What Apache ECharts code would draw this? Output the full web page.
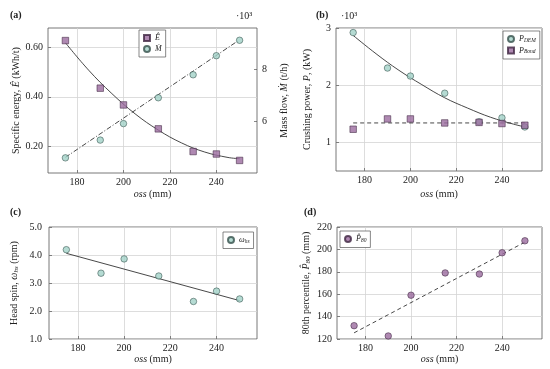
<!DOCTYPE html>
<html><head><meta charset="utf-8">
<script src="https://cdn.jsdelivr.net/npm/echarts@6/dist/echarts.min.js"></script>
<style>html,body{margin:0;padding:0;background:#fff}#c{width:550px;height:369px}</style>
</head><body><div id="c"></div>
<script>
const oss = [175, 190, 200, 215, 230, 240, 250];
const energy = [0.628, 0.435, 0.367, 0.270, 0.178, 0.168, 0.142];
const massFlow = [4600, 5280, 5910, 6900, 7780, 8510, 9100];
const energyFitX = [175, 185, 195, 205, 215, 225, 235, 245, 250];
const energyFit = [0.619, 0.508, 0.413, 0.331, 0.265, 0.213, 0.176, 0.154, 0.149];
const massFitX = [175, 250];
const massFit = [4620, 9120];
const pDEM = [2920, 2300, 2160, 1860, 1360, 1430, 1270];
const pBond = [1230, 1410, 1410, 1340, 1350, 1330, 1300];
const pFitX = [175, 185, 195, 205, 215, 225, 235, 245, 250];
const pFit = [2870, 2550, 2260, 2010, 1780, 1600, 1440, 1320, 1270];
const bondFitX = [175, 250];
const bondFit = [1340, 1340];
const headSpin = [4.19, 3.35, 3.86, 3.25, 2.34, 2.71, 2.43];
const spinFitX = [175, 250];
const spinFit = [4.06, 2.37];
const p80 = [131.9, 122.7, 159.1, 179, 178, 197, 207.7];
const p80FitX = [175, 250];
const p80Fit = [125.5, 206.5];
const xTicks = [180, 200, 220, 240];
const energyTicks = [0.2, 0.4, 0.6];
const massTicks = [6000, 8000];
const powerTicks = [1000, 2000, 3000];

const FONT = 'Liberation Serif';
const TXT = '#222';
const TEAL = '#a3d2c8', TEAL_B = '#34504b';
const PURP = '#9b6b9f', PURP_B = '#3e2541';
const zip = (xs, ys) => xs.map((x, i) => [x, ys[i]]);
const rich = {
  i: {fontStyle: 'italic', fontFamily: FONT, fontSize: 10, color: TXT},
  sub: {fontStyle: 'italic', fontFamily: FONT, fontSize: 7, color: TXT, verticalAlign: 'bottom', padding: [4, 0, 0, 0]},
  n: {fontFamily: FONT, fontSize: 10, color: TXT}
};
const legRich = {
  i: {fontStyle: 'italic', fontFamily: FONT, fontSize: 8, color: TXT},
  sub: {fontStyle: 'italic', fontFamily: FONT, fontSize: 5.5, color: TXT, padding: [3, 0, 0, 0]}
};

function xAx(gi, gap) {
  return {
    type: 'value', gridIndex: gi, min: 167.5, max: 257.5,
    name: '{i|oss} (mm)', nameLocation: 'middle', nameGap: gap,
    nameTextStyle: {fontFamily: FONT, fontSize: 10, color: TXT, rich},
    axisLine: {show: false},
    axisTick: {show: true, inside: true, length: 3, customValues: xTicks, lineStyle: {color: '#555', width: 0.7}},
    axisLabel: {customValues: xTicks, fontFamily: FONT, fontSize: 10, color: TXT, margin: 4},
    splitLine: {show: true, lineStyle: {color: '#d4d4d4', width: 0.8}}
  };
}
function yAx(gi, o) {
  return Object.assign({
    type: 'value', gridIndex: gi,
    nameLocation: 'middle', nameRotate: 90,
    nameTextStyle: {fontFamily: FONT, fontSize: 10, color: TXT, rich},
    axisLine: {show: false},
    axisTick: {show: true, inside: true, length: 3, lineStyle: {color: '#555', width: 0.7}},
    axisLabel: {fontFamily: FONT, fontSize: 10, color: TXT, margin: 5},
    splitLine: {show: true, lineStyle: {color: '#d4d4d4', width: 0.8}}
  }, o);
}
const gridStyle = {show: true, borderColor: '#555', borderWidth: 0.8, backgroundColor: 'transparent'};
const sq = {symbol: 'rect', symbolSize: 6.5, itemStyle: {color: PURP, borderColor: PURP_B, borderWidth: 0.7}};
const ci = {symbol: 'circle', symbolSize: 6.5, itemStyle: {color: TEAL, borderColor: TEAL_B, borderWidth: 0.7}};
const fitLine = (xi, yi, data, type, smooth) => ({
  type: 'line', xAxisIndex: xi, yAxisIndex: yi, data, showSymbol: false, symbol: 'none',
  smooth: smooth ? 0.4 : false, silent: true, z: 1,
  lineStyle: {color: '#333', width: 0.9, type}
});
const legBase = {
  orient: 'vertical', itemWidth: 6, itemHeight: 6, itemGap: 3, padding: [4, 4, 4, 4],
  borderColor: '#555', borderWidth: 0.7, backgroundColor: '#fff', selectedMode: false,
  textStyle: {fontFamily: FONT, fontSize: 8, color: TXT, rich: legRich}
};
const legNames = {
  E: '{i|Ê}', M: '{i|Ṁ}', PDEM: '{i|P}{sub|DEM}', PBond: '{i|P}{sub|Bond}', W: '{i|ω}{sub|hs}', P80: '{i|P̂}{sub|80}'
};

const option = {
  animation: false,
  backgroundColor: '#fff',
  title: [
    {text: '(a)', left: 5, top: 5},
    {text: '(b)', left: 311, top: 5},
    {text: '(c)', left: 5, top: 202},
    {text: '(d)', left: 299, top: 202}
  ].map(t => Object.assign(t, {textStyle: {fontFamily: FONT, fontSize: 10, fontWeight: 'bold', color: TXT}})),
  graphic: [
    {type: 'text', left: 236, top: 11, style: {text: '·10³', font: '10px "Liberation Serif"', fill: TXT}},
    {type: 'text', left: 341, top: 11, style: {text: '·10³', font: '10px "Liberation Serif"', fill: TXT}}
  ],
  grid: [
    Object.assign({left: 48, top: 28, width: 209, height: 145}, gridStyle),
    Object.assign({left: 336, top: 28, width: 206, height: 143}, gridStyle),
    Object.assign({left: 49, top: 227, width: 208, height: 112}, gridStyle),
    Object.assign({left: 337, top: 227, width: 205, height: 112}, gridStyle)
  ],
  xAxis: [xAx(0, 16), xAx(1, 18), xAx(2, 15), xAx(3, 15)],
  yAxis: [
    yAx(0, {min: 0.091, max: 0.679, name: 'Specific energy, {i|Ê} (kWh/t)', nameGap: 27,
      axisTick: {show: true, inside: true, length: 3, customValues: energyTicks, lineStyle: {color: '#555', width: 0.7}},
      axisLabel: {customValues: energyTicks, fontFamily: FONT, fontSize: 10, color: TXT, margin: 5, formatter: v => v.toFixed(2)}}),
    yAx(0, {position: 'right', min: 4020, max: 9570, name: 'Mass flow, {i|Ṁ} (t/h)', nameGap: 22, nameRotate: 90,
      splitLine: {show: false},
      axisTick: {show: true, inside: true, length: 3, customValues: massTicks, lineStyle: {color: '#555', width: 0.7}},
      axisLabel: {customValues: massTicks, fontFamily: FONT, fontSize: 10, color: TXT, margin: 5, formatter: v => String(v / 1000)}}),
    yAx(1, {min: 500, max: 3000, name: 'Crushing power, {i|P}, (kW)', nameGap: 24,
      axisTick: {show: true, inside: true, length: 3, customValues: powerTicks, lineStyle: {color: '#555', width: 0.7}},
      axisLabel: {customValues: powerTicks, fontFamily: FONT, fontSize: 10, color: TXT, margin: 5, formatter: v => String(v / 1000)}}),
    yAx(2, {min: 1, max: 5, interval: 1, name: 'Head spin, {i|ω}{sub|hs} (rpm)', nameGap: 29,
      axisLabel: {fontFamily: FONT, fontSize: 10, color: TXT, margin: 7, formatter: v => v.toFixed(1)}}),
    yAx(3, {min: 120, max: 220, interval: 20, name: '80th percentile, {i|P̂}{sub|80} (mm)', nameGap: 25})
  ],
  legend: [
    Object.assign({}, legBase, {left: 139, top: 30, data: [{name: 'E', icon: 'rect'}, {name: 'M', icon: 'circle'}], formatter: n => legNames[n]}),
    Object.assign({}, legBase, {left: 503, top: 31, data: [{name: 'PDEM', icon: 'circle'}, {name: 'PBond', icon: 'rect'}], formatter: n => legNames[n]}),
    Object.assign({}, legBase, {left: 223, top: 232, data: [{name: 'W', icon: 'circle'}], formatter: n => legNames[n]}),
    Object.assign({}, legBase, {left: 340, top: 231, data: [{name: 'P80', icon: 'circle'}], formatter: n => legNames[n]})
  ],
  series: [
    fitLine(0, 0, zip(energyFitX, energyFit), 'solid', true),
    fitLine(0, 1, zip(massFitX, massFit), [5, 2, 1, 2], false),
    Object.assign({type: 'scatter', name: 'E', xAxisIndex: 0, yAxisIndex: 0, data: zip(oss, energy), z: 3}, sq),
    Object.assign({type: 'scatter', name: 'M', xAxisIndex: 0, yAxisIndex: 1, data: zip(oss, massFlow), z: 3}, ci),
    fitLine(1, 2, zip(pFitX, pFit), 'solid', true),
    fitLine(1, 2, zip(bondFitX, bondFit), [4, 3], false),
    Object.assign({type: 'scatter', name: 'PDEM', xAxisIndex: 1, yAxisIndex: 2, data: zip(oss, pDEM), z: 3}, ci),
    Object.assign({type: 'scatter', name: 'PBond', xAxisIndex: 1, yAxisIndex: 2, data: zip(oss, pBond), z: 4}, sq),
    fitLine(2, 3, zip(spinFitX, spinFit), 'solid', false),
    Object.assign({type: 'scatter', name: 'W', xAxisIndex: 2, yAxisIndex: 3, data: zip(oss, headSpin), z: 3}, ci),
    fitLine(3, 4, zip(p80FitX, p80Fit), [4, 3], false),
    Object.assign({type: 'scatter', name: 'P80', xAxisIndex: 3, yAxisIndex: 4, data: zip(oss, p80), z: 3},
      {symbol: 'circle', symbolSize: 6.5, itemStyle: {color: PURP, borderColor: PURP_B, borderWidth: 0.7}})
  ]
};
const chart = echarts.init(document.getElementById('c'), null, {renderer: 'canvas'});
chart.setOption(option);
</script></body></html>
